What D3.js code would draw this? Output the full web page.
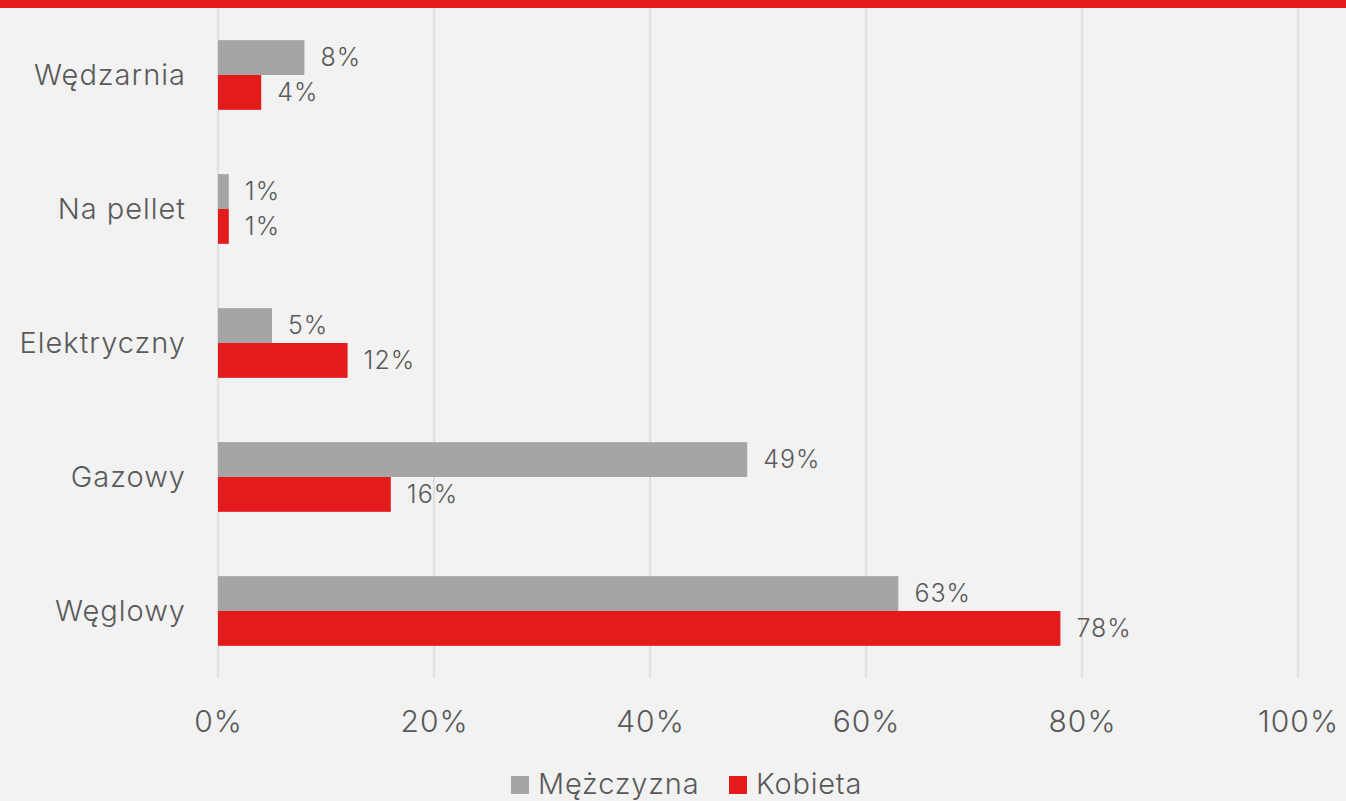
<!DOCTYPE html>
<html>
<head>
<meta charset="utf-8">
<script src="https://cdn.jsdelivr.net/npm/d3@7"></script>
<style>
  html, body { margin: 0; padding: 0; background: #f2f2f2; }
  svg { display: block; }
  text { font-family: "Inter", "Roboto", sans-serif; font-weight: 300; fill: #595959; }
</style>
</head>
<body>
<svg id="chart" width="1346" height="801"></svg>
<script>
// Categories (top to bottom) and shares per group
const categories = ["Wędzarnia", "Na pellet", "Elektryczny", "Gazowy", "Węglowy"];
const seriesNames = ["Mężczyzna", "Kobieta"];
const men = [8, 1, 5, 49, 63];
const women = [4, 1, 12, 16, 78];
const xTicks = [0, 20, 40, 60, 80, 100];

const colors = { "Mężczyzna": "#a5a5a5", "Kobieta": "#e41b1c" };

const W = 1346, H = 801;
const margin = { top: 8, right: 48, bottom: 123, left: 218 };
const svg = d3.select("#chart");

// top accent strip
svg.append("rect").attr("x", 0).attr("y", 0).attr("width", W).attr("height", 8).attr("fill", "#e41b1c");

const x = d3.scaleLinear().domain([0, 100]).range([margin.left, margin.left + 1080]);
const y = d3.scaleBand().domain(categories).range([margin.top, H - margin.bottom]).paddingInner(0.48).paddingOuter(0.24);
const sub = d3.scaleBand().domain(seriesNames).range([0, y.bandwidth()]);

// vertical gridlines
svg.append("g").selectAll("line").data(xTicks).join("line")
  .attr("x1", d => x(d)).attr("x2", d => x(d))
  .attr("y1", margin.top).attr("y2", H - margin.bottom)
  .attr("stroke", "#d9d9d9").attr("stroke-width", 1.5);

// x axis labels
const xAxis = d3.axisBottom(x).tickValues(xTicks).tickFormat(d => d + "%").tickSize(0).tickPadding(0);
const gx = svg.append("g").attr("transform", `translate(0, ${H - margin.bottom})`).call(xAxis);
gx.select(".domain").remove();
gx.selectAll("text").attr("dy", null).attr("y", 46).attr("dominant-baseline", "middle")
  .style("font-size", "30px").style("letter-spacing", "1px").attr("fill", "#595959");

// category labels
const yAxis = d3.axisLeft(y).tickSize(0).tickPadding(32);
const gy = svg.append("g").attr("transform", `translate(${margin.left}, 0)`).call(yAxis);
gy.select(".domain").remove();
gy.selectAll("text").attr("dy", "2").attr("dominant-baseline", "middle")
  .style("font-size", "29px").style("letter-spacing", "1px").attr("fill", "#595959");

const rows = categories.map((c, i) => ({ cat: c, vals: [
  { s: "Mężczyzna", v: men[i] }, { s: "Kobieta", v: women[i] } ] }));

const groups = svg.append("g").selectAll("g").data(rows).join("g")
  .attr("transform", d => `translate(0, ${y(d.cat)})`);

groups.selectAll("rect").data(d => d.vals).join("rect")
  .attr("x", x(0)).attr("y", d => sub(d.s))
  .attr("width", d => x(d.v) - x(0)).attr("height", sub.bandwidth())
  .attr("fill", d => colors[d.s]);

groups.selectAll("text").data(d => d.vals).join("text")
  .attr("x", d => x(d.v) + 16).attr("y", d => sub(d.s) + sub.bandwidth() / 2 + 2)
  .attr("dominant-baseline", "middle")
  .style("font-size", "25px").style("letter-spacing", "1px")
  .text(d => d.v + "%");

// legend
const legend = svg.append("g").attr("transform", `translate(0, ${H - 17})`);
const legItems = [{ s: "Mężczyzna", x: 511 }, { s: "Kobieta", x: 729 }];
legItems.forEach(it => {
  legend.append("rect").attr("x", it.x).attr("y", -8).attr("width", 18).attr("height", 18).attr("fill", colors[it.s]);
  legend.append("text").attr("x", it.x + 27).attr("y", 2).attr("dominant-baseline", "middle")
    .style("font-size", "29px").style("letter-spacing", "0.8px").text(it.s);
});
</script>
</body>
</html>
